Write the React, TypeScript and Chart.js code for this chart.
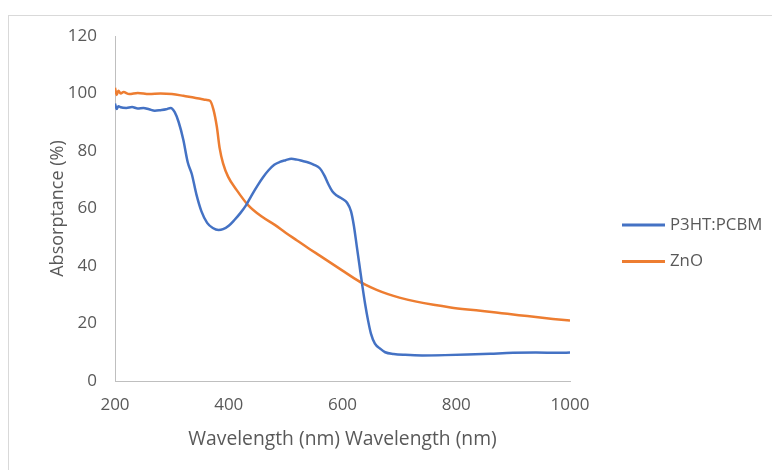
import React, { useEffect, useRef } from "react";
import { Chart, registerables } from "chart.js";

Chart.register(...registerables);

const seriesNames = ["P3HT:PCBM", "ZnO"];
const seriesColors = ["#4472C4", "#ED7D31"];

const p3htWavelength = [
  200, 203, 206, 210, 220, 230, 240, 250, 260, 270, 280, 290, 298, 305, 312, 320, 328, 335, 343, 352,
  362, 372, 382, 390, 400, 410, 420, 430, 440, 450, 460, 470, 480, 490, 500, 510, 520, 530, 540, 550,
  560, 568, 575, 582, 590, 600, 608, 615, 620, 625, 630, 635, 640, 645, 650, 657, 666, 675, 690, 710,
  740, 780, 820, 860, 900, 940, 980, 1000,
];
const p3htAbsorptance = [
  96.5, 94.6, 95.6, 95.2, 95.0, 95.3, 94.8, 95.0, 94.5, 94.0, 94.2, 94.5, 95.0, 93.5, 90.0, 84.0, 76.0, 72.0, 65.0, 59.0,
  55.0, 53.2, 52.5, 52.8, 54.0, 56.0, 58.3, 61.0, 64.5, 67.8, 70.8, 73.3, 75.2, 76.2, 76.8, 77.3, 77.0, 76.5, 76.0, 75.2,
  74.0, 71.5, 68.5, 66.0, 64.5, 63.3, 62.0, 59.0, 54.0, 47.0, 40.0, 33.0, 26.5, 21.0, 16.5, 13.0, 11.3, 10.0, 9.4, 9.1,
  8.9, 9.0, 9.2, 9.5, 9.8, 9.9, 9.8, 9.9,
];

const znoWavelength = [
  200, 203, 206, 210, 215, 225, 240, 260, 280, 300, 320, 340, 350, 360, 367, 373, 379, 384, 390, 399,
  414, 434, 458, 481, 500, 520, 540, 560, 580, 600, 620, 640, 660, 680, 700, 730, 760, 790, 820, 850,
  880, 910, 940, 970, 1000,
];
const znoAbsorptance = [
  102.0, 99.5, 101.0, 100.0, 100.5, 99.8, 100.2, 99.8, 100.0, 99.8, 99.2, 98.5, 98.2, 97.8, 97.5, 94.5, 88.5, 81.0, 75.7, 71.0,
  66.4, 61.2, 57.2, 54.3, 51.6, 48.9, 46.2, 43.6, 41.0, 38.4, 35.8, 33.5, 31.7, 30.2, 29.0, 27.6, 26.5, 25.6, 24.9, 24.3,
  23.6, 22.9, 22.3, 21.6, 21.0,
];

const xTitle = "Wavelength (nm) Wavelength (nm)";
const yTitle = "Absorptance (%)";
const xMin = 200, xMax = 1000, xStep = 200;
const yMin = 0, yMax = 120, yStep = 20;

const FONT = "'Open Sans', sans-serif";
const TEXT = "#595959";
const AXIS = "#bfbfbf";

const legendPlugin = {
  id: "customLegend",
  afterDraw(chart: any) {
    const { ctx, chartArea } = chart;
    ctx.save();
    chart.data.datasets.forEach((ds: any, i: number) => {
      const y = chartArea.top + 189 + i * 36.5;
      const x0 = chartArea.right + 52;
      ctx.strokeStyle = ds.borderColor;
      ctx.lineWidth = 3;
      ctx.beginPath();
      ctx.moveTo(x0, y);
      ctx.lineTo(x0 + 43, y);
      ctx.stroke();
      ctx.fillStyle = TEXT;
      ctx.font = `16.8px ${FONT}`;
      ctx.textBaseline = "middle";
      ctx.textAlign = "left";
      ctx.fillText(ds.label, x0 + 48, y);
    });
    ctx.restore();
  },
};

export default function App() {
  const ref = useRef<HTMLCanvasElement | null>(null);
  useEffect(() => {
    if (!ref.current) return;
    const chart = new Chart(ref.current, {
      type: "line",
      data: {
        datasets: [
          {
            label: seriesNames[0],
            data: p3htWavelength.map((x, i) => ({ x, y: p3htAbsorptance[i] })),
            borderColor: seriesColors[0],
            backgroundColor: seriesColors[0],
            borderWidth: 2.5,
            pointRadius: 0,
            cubicInterpolationMode: "monotone",
            fill: false,
          },
          {
            label: seriesNames[1],
            data: znoWavelength.map((x, i) => ({ x, y: znoAbsorptance[i] })),
            borderColor: seriesColors[1],
            backgroundColor: seriesColors[1],
            borderWidth: 2.5,
            pointRadius: 0,
            cubicInterpolationMode: "monotone",
            fill: false,
          },
        ],
      },
      options: {
        responsive: false,
        animation: false,
        devicePixelRatio: 1,
        layout: { padding: { left: 47, top: 36, right: 202, bottom: 0 } },
        plugins: { legend: { display: false }, tooltip: { enabled: false } },
        scales: {
          x: {
            type: "linear",
            min: xMin,
            max: xMax,
            grid: { display: false, drawTicks: false },
            border: { display: true, color: AXIS, width: 1 },
            ticks: {
              stepSize: xStep,
              color: TEXT,
              font: { family: FONT, size: 17 },
              padding: 14,
              maxRotation: 0,
              callback: (v: any) => String(v),
            },
            title: { display: true, text: xTitle, color: TEXT, font: { family: FONT, size: 19.3 }, padding: { top: 0, bottom: 19 } },
            afterFit: (s: any) => { s.height = 89; },
          },
          y: {
            type: "linear",
            min: yMin,
            max: yMax,
            grid: { display: false, drawTicks: false },
            border: { display: true, color: AXIS, width: 1 },
            ticks: { stepSize: yStep, color: TEXT, font: { family: FONT, size: 17 }, padding: 18, callback: (v: any) => String(v) },
            title: { display: true, text: yTitle, color: TEXT, font: { family: FONT, size: 18 }, padding: { top: 0, bottom: 0 } },
            afterFit: (s: any) => { s.width = 68; },
          },
        },
      },
      plugins: [legendPlugin],
    } as any);
    return () => chart.destroy();
  }, []);
  return (
    <div style={{ position: "fixed", left: 0, top: 0, width: 772, height: 470, overflow: "hidden", background: "#fff" }}>
      <div style={{ position: "absolute", left: 8, top: 15, width: 820, height: 520, border: "1px solid #d9d9d9" }} />
      <canvas ref={ref} width={772} height={470} style={{ position: "absolute", left: 0, top: 0, width: 772, height: 470 }} />
    </div>
  );
}
